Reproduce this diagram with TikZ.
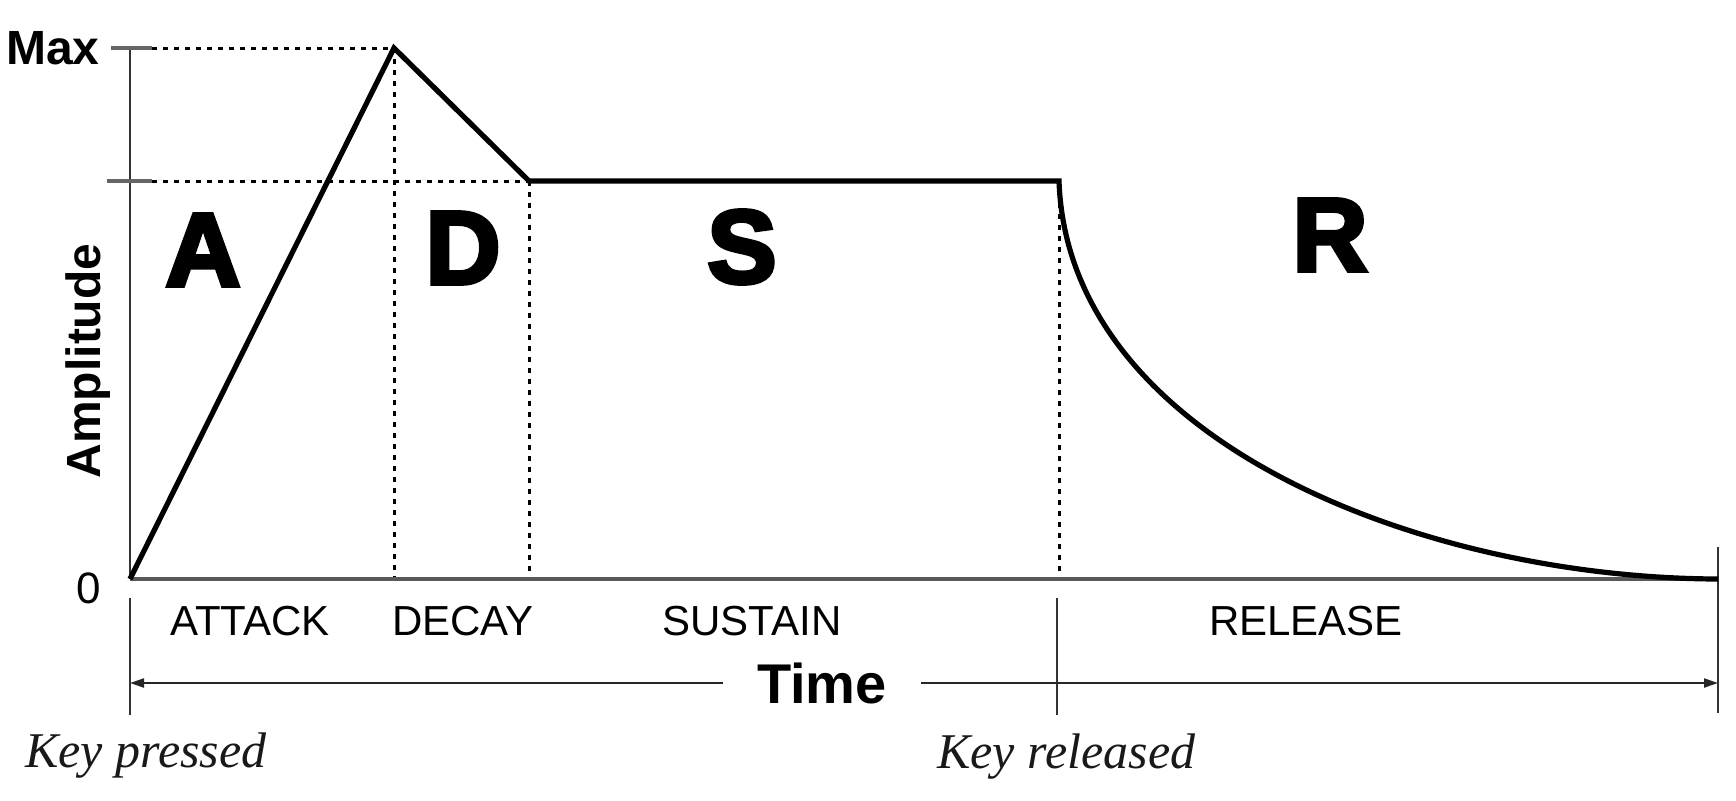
\documentclass[tikz,border=0pt]{standalone}
\usepackage{fontspec}
\setmainfont{Liberation Sans}
\newfontfamily\heavyfont{Liberation Sans}[BoldFeatures={FakeBold=4}]
\newfontfamily\serifit{Liberation Serif}
\usetikzlibrary{arrows.meta}
\begin{document}
\begin{tikzpicture}[x=0.5pt,y=-0.5pt,
  env/.style={line width=2.6pt, line join=miter, black},
  axisline/.style={line width=1.1pt, black!80},
  baseline/.style={line width=1.6pt, black!65},
  dots/.style={line width=1.5pt, dash pattern=on 2.5pt off 3pt, black},
  ticky/.style={line width=2pt, black!60},
  arr/.style={line width=1.1pt, black!85, -{Triangle[length=7pt,width=4.5pt]}},
  bigletter/.style={font=\heavyfont\bfseries\fontsize{52}{52}\selectfont, inner sep=0pt},
  phase/.style={font=\fontsize{21}{21}\selectfont, inner sep=0pt},
  keylabel/.style={font=\serifit\itshape\fontsize{25}{25}\selectfont, anchor=base west, inner sep=0pt, text=black!90}]
\useasboundingbox (0,0) rectangle (1736,800);
% key points
\coordinate (O) at (130,579);
\coordinate (P) at (394,48);
\coordinate (DE) at (529,181);
\coordinate (SE) at (1059,181);
\coordinate (RE) at (1718,579);
\coordinate (c1) at (1068,440);
\coordinate (c2) at (1420,578);
\coordinate (ytop) at (130,48);
\coordinate (maxa) at (111,48);
\coordinate (maxb) at (152,48);
\coordinate (susa) at (107,181);
\coordinate (susb) at (152,181);
\coordinate (pb) at (394,579);
\coordinate (db) at (529,579);
\coordinate (sb) at (1059,579);
% lower ticks
\coordinate (t1a) at (130,598);
\coordinate (t1b) at (130,715);
\coordinate (t2a) at (1057,598);
\coordinate (t2b) at (1057,715);
\coordinate (t3a) at (1718,547);
\coordinate (t3b) at (1718,713);
\coordinate (kp) at (130,684);
\coordinate (ke) at (1718,684);
% dotted guides
\draw[dots] (maxb) -- (P);
\draw[dots] (susb) -- (DE);
\draw[dots] (P) -- (pb);
\draw[dots] (DE) -- (db);
\draw[dots] (SE) -- (sb);
% axes
\draw[axisline] (ytop) -- (O);
\draw[baseline] (O) -- (RE);
\draw[ticky] (maxa) -- (maxb);
\draw[ticky] (susa) -- (susb);
\draw[axisline] (t1a) -- (t1b);
\draw[axisline] (t2a) -- (t2b);
\draw[axisline] (t3a) -- (t3b);
% envelope
\draw[env] (O) -- (P) -- (DE) -- (SE) .. controls (c1) and (c2) .. (RE);
% labels
\node[font=\bfseries\fontsize{24}{24}\selectfont, anchor=east, inner sep=0pt] (max) at (100,48) {Max};
\node[font=\fontsize{22}{22}\selectfont, anchor=east, inner sep=0pt] (zero) at (101,588) {0};
\node[font=\bfseries\fontsize{24}{24}\selectfont, rotate=90, inner sep=0pt] (amp) at (88,361) {Amplitude};
\node[bigletter] (A) at (203,250) {A};
\node[bigletter] (D) at (463,248) {D};
\node[bigletter] (S) at (742,247) {S};
\node[bigletter] (R) at (1330,235) {R};
\node[phase] (attack) at (250,621) {ATTACK};
\node[phase] (decay) at (463,621) {DECAY};
\node[phase] (sustain) at (752,621) {SUSTAIN};
\node[phase] (release) at (1306,621) {RELEASE};
\node[font=\bfseries\fontsize{28}{28}\selectfont, inner ysep=0pt, inner xsep=17pt] (time) at (822,683) {Time};
\draw[arr] (time.west) -- (time.west -| kp);
\draw[arr] (time.east) -- (time.east -| ke);
\node[keylabel] (kpress) at (25,767) {Key pressed};
\node[keylabel] (krel) at (937,768) {Key released};
\end{tikzpicture}
\end{document}
